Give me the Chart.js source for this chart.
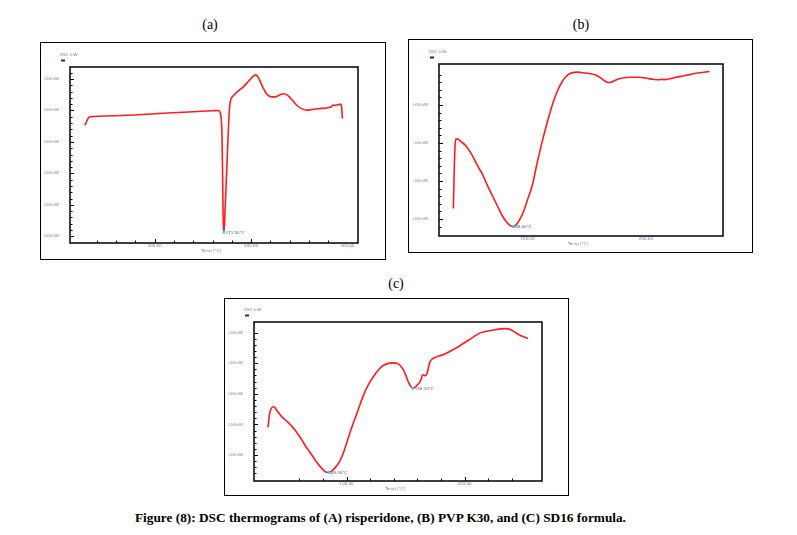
<!DOCTYPE html>
<html><head><meta charset="utf-8">
<script src="https://cdn.jsdelivr.net/npm/chart.js@4"></script>
<style>
body{margin:0;width:797px;height:535px;background:#fff;position:relative;overflow:hidden;font-family:"Liberation Serif",serif}
.frame{position:absolute;border:1.5px solid #000;box-sizing:border-box}
canvas{position:absolute}
.ttl{position:absolute;font-size:14px;transform:translate(-50%,-50%);white-space:nowrap}
#cap{position:absolute;left:135px;top:510px;font-weight:bold;font-size:13.3px;white-space:nowrap}
</style></head><body>
<div class="ttl" style="left:210px;top:25px">(a)</div>
<div class="ttl" style="left:581px;top:25px">(b)</div>
<div class="ttl" style="left:396px;top:284px">(c)</div>
<div class="frame" style="left:40px;top:42px;width:346px;height:218px"></div>
<div class="frame" style="left:408px;top:39px;width:345px;height:214px"></div>
<div class="frame" style="left:224px;top:298px;width:345px;height:198px"></div>
<canvas id="ca" width="346" height="218" style="left:40px;top:42px"></canvas>
<canvas id="cb" width="345" height="214" style="left:408px;top:39px"></canvas>
<canvas id="cc" width="345" height="198" style="left:224px;top:298px"></canvas>
<div id="cap">Figure (8): DSC thermograms of (A) risperidone, (B) PVP K30, and (C) SD16 formula.</div>
<script>
// ---- Panel (a): risperidone ----
const tempA = [27.6,30,32,60,100,140,160,166,167.5,168.8,169.8,170.5,171.0,171.5,172.2,173.2,174.3,175.5,176.7,177.8,179.3,182,186,192,198,202,205,208,212,216,220,225,230,234,238,243,248,253,258,265,272,278,283,285,287,290,293,294,294.8];
const heatA = [-4.7,-3.0,-2.1,-1.66,-1.03,-0.4,-0.1,0,-0.4,-2.2,-8,-22,-34,-38.6,-37,-30,-22,-13,-4,1.5,3.7,4.8,6.0,7.5,9.5,10.8,11.3,10.2,7.5,5.3,4.4,4.3,5.0,5.3,4.8,3.2,1.5,0.5,0.1,0.4,0.6,0.8,1.1,1.7,1.6,1.8,2.0,1.0,-2.6];
const xLabelsA = [100,200,300];
const yLabelsA = [10,0,-10,-20,-30,-40];

// ---- Panel (b): PVP K30 ----
const tempB = [37.5,38.3,38.9,39.6,41.5,44,48,53,58,62,66,70.4,75,79,82.5,85.5,88,90.5,93,97,100.5,104,108,111.3,115,118.3,122,125.4,129,132.4,136,139.4,143,146.5,152,157.7,161,164.5,168,170.5,174.6,180,187,194.4,200,205.6,211,213,215.5,220,225.4,231,236.6,241,245,249,253.5];
const heatB = [-5.44,-3.3,-2.2,-1.78,-1.8,-1.92,-2.14,-2.6,-3.2,-3.63,-4.2,-4.77,-5.35,-5.85,-6.15,-6.34,-6.39,-6.3,-6.08,-5.56,-4.9,-4.25,-3.1,-2.23,-1.3,-0.56,0.2,0.75,1.2,1.49,1.66,1.72,1.73,1.70,1.66,1.58,1.46,1.30,1.19,1.2,1.32,1.42,1.46,1.46,1.42,1.36,1.33,1.36,1.34,1.38,1.46,1.53,1.60,1.66,1.70,1.73,1.77];
const xLabelsB = [100,200];
const yLabelsB = [2,0,-2,-4,-6];

// ---- Panel (c): SD16 formula ----
const tempC = [33.4,34.6,36.3,38.5,40.5,44.8,50.4,56.1,61.8,66,70.3,74,77.3,80,82.4,85,87.3,90.5,94.3,98,101.4,105.5,109.9,114,118.4,122.5,126.9,131,135.4,139,142.5,145.5,148.2,150.5,152.4,154.3,156.1,158,159.5,161,162.3,163.4,164.3,165.2,166,167,168,169.4,170.8,172.8,175.1,182.2,192.1,203.4,213.3,223.2,234.6,238.8,242,245.9,250,253.8];
const heatC = [-2.18,-1.36,-0.93,-0.84,-1.04,-1.47,-1.86,-2.34,-2.98,-3.5,-3.96,-4.4,-4.71,-4.95,-5.10,-5.12,-5.04,-4.8,-4.39,-3.7,-2.88,-1.95,-1.04,-0.15,0.58,1.1,1.56,1.85,1.99,2.02,1.99,1.85,1.56,1.15,0.76,0.5,0.37,0.42,0.54,0.66,0.80,1.0,1.23,1.25,1.19,1.2,1.28,1.7,2.10,2.28,2.38,2.57,2.96,3.50,3.98,4.15,4.26,4.20,4.05,3.87,3.72,3.61];
const xLabelsC = [100,200];
const yLabelsC = [4,2,0,-2,-4];

const near = (v, arr, tol) => arr.some(a => Math.abs(a - v) < tol);
const onStep = (v, s) => Math.abs(v / s - Math.round(v / s)) < 1e-6;

const dscPlugin = {
  id: 'dsc',
  afterDatasetsDraw(chart) {
    const o = chart.options.plugins.dsc;
    const ctx = chart.ctx, a = chart.chartArea, xs = chart.scales.x, ys = chart.scales.y;
    ctx.save();
    ctx.strokeStyle = '#000';
    ctx.lineWidth = 1;
    xs.ticks.forEach(t => {
      if (!onStep(t.value, o.xStep)) return;
      const px = Math.round(xs.getPixelForValue(t.value)) + 0.5;
      if (px <= a.left + 1 || px >= a.right - 1) return;
      const len = near(t.value, o.xMajor, 1e-6) ? 4 : 2.5;
      ctx.beginPath(); ctx.moveTo(px, a.bottom); ctx.lineTo(px, a.bottom - len); ctx.stroke();
    });
    ys.ticks.forEach(t => {
      if (!onStep(t.value, o.yStep)) return;
      const py = Math.round(ys.getPixelForValue(t.value)) + 0.5;
      if (py <= a.top + 1 || py >= a.bottom - 1) return;
      const len = near(t.value, o.yMajor, 1e-6) ? 4 : 2.5;
      ctx.beginPath(); ctx.moveTo(a.left, py); ctx.lineTo(a.left + len, py); ctx.stroke();
    });
    ctx.lineWidth = 1.5;
    ctx.strokeRect(a.left, a.top, a.width, a.height);
    ctx.font = '4px "DejaVu Sans"';
    ctx.textBaseline = 'middle';
    // x tick labels (major temperatures), placed through the x scale
    ctx.fillStyle = '#7070a0';
    ctx.textAlign = 'center';
    o.xMajor.forEach(v => {
      ctx.fillText(v.toFixed(2), xs.getPixelForValue(v), a.bottom + 3);
    });
    // legend
    ctx.textAlign = 'left';
    ctx.fillStyle = '#8080a8';
    ctx.fillText('DSC mW', a.left - 10, a.top - 12);
    ctx.fillStyle = '#701010';
    ctx.fillRect(a.left - 9, a.top - 7.5, 4, 2);
    // axis title
    ctx.fillStyle = '#8080a8';
    ctx.textAlign = 'center';
    ctx.fillText('Temp [°C]', (a.left + a.right) / 2 - 3, a.bottom + 7.5);
    // annotations
    ctx.textAlign = 'left';
    o.marks.forEach(i => {
      const px = xs.getPixelForValue(o.tx[i]), py = ys.getPixelForValue(o.hy[i]);
      ctx.fillStyle = '#20d0e0';
      ctx.fillRect(px - 1, py - 1, 2.5, 2.5);
      ctx.fillStyle = '#606070';
      ctx.fillText(o.tx[i].toFixed(2) + '°C', px + 2, py + 0.5);
    });
    ctx.restore();
  }
};

const YW = 26, XH = 8;
function makeChart(id, tx, hy, cfg) {
  const data = tx.map((t, i) => ({x: t, y: hy[i]}));
  const pad = { left: cfg.pad.left - YW, top: cfg.pad.top, right: cfg.pad.right, bottom: cfg.pad.bottom - XH };
  new Chart(document.getElementById(id), {
    type: 'line',
    data: { datasets: [{ data, borderColor: '#ff1c1c', borderWidth: 1.6, pointRadius: 0, fill: false, cubicInterpolationMode: 'monotone' }] },
    options: {
      responsive: false, animation: false, events: [],
      layout: { padding: pad },
      plugins: { legend: { display: false }, tooltip: { enabled: false },
        dsc: { xStep: cfg.xStep, yStep: cfg.yStep, xMajor: cfg.xMajor, yMajor: cfg.yMajor, marks: cfg.marks, tx, hy } },
      scales: {
        x: { type: 'linear', min: cfg.xr[0], max: cfg.xr[1],
          grid: { display: false }, border: { display: false },
          ticks: { display: false, stepSize: cfg.xStep, autoSkip: false, maxRotation: 0 },
          afterFit: s => { s.height = XH; } },
        y: { type: 'linear', min: cfg.yr[0], max: cfg.yr[1],
          grid: { display: false }, border: { display: false },
          ticks: { stepSize: cfg.yStep, autoSkip: false, padding: 3, color: '#8080a8', font: { size: 4, family: 'DejaVu Sans' },
            callback: v => near(v, cfg.yMajor, 1e-6) ? v.toFixed(2) + 'mW' : '' },
          afterFit: s => { s.width = YW; } }
      }
    },
    plugins: [dscPlugin]
  });
}

const minIdx = arr => arr.indexOf(Math.min(...arr));

makeChart('ca', tempA, heatA, { pad: {left: 30, top: 25, right: 28, bottom: 17}, xr: [12, 311], yr: [-42.1, 13.8], xStep: 20, yStep: 2, xMajor: xLabelsA, yMajor: yLabelsA, marks: [minIdx(heatA)] });
makeChart('cb', tempB, heatB, { pad: {left: 31, top: 25, right: 30, bottom: 17}, xr: [25.4, 265], yr: [-6.89, 2.16], xStep: 20, yStep: 0.4, xMajor: xLabelsB, yMajor: yLabelsB, marks: [minIdx(heatB)] });
makeChart('cc', tempC, heatC, { pad: {left: 30, top: 24, right: 27, bottom: 15}, xr: [21.5, 265.7], yr: [-5.69, 4.69], xStep: 20, yStep: 0.4, xMajor: xLabelsC, yMajor: yLabelsC, marks: [minIdx(heatC), tempC.indexOf(156.1)] });
</script>
</body></html>
